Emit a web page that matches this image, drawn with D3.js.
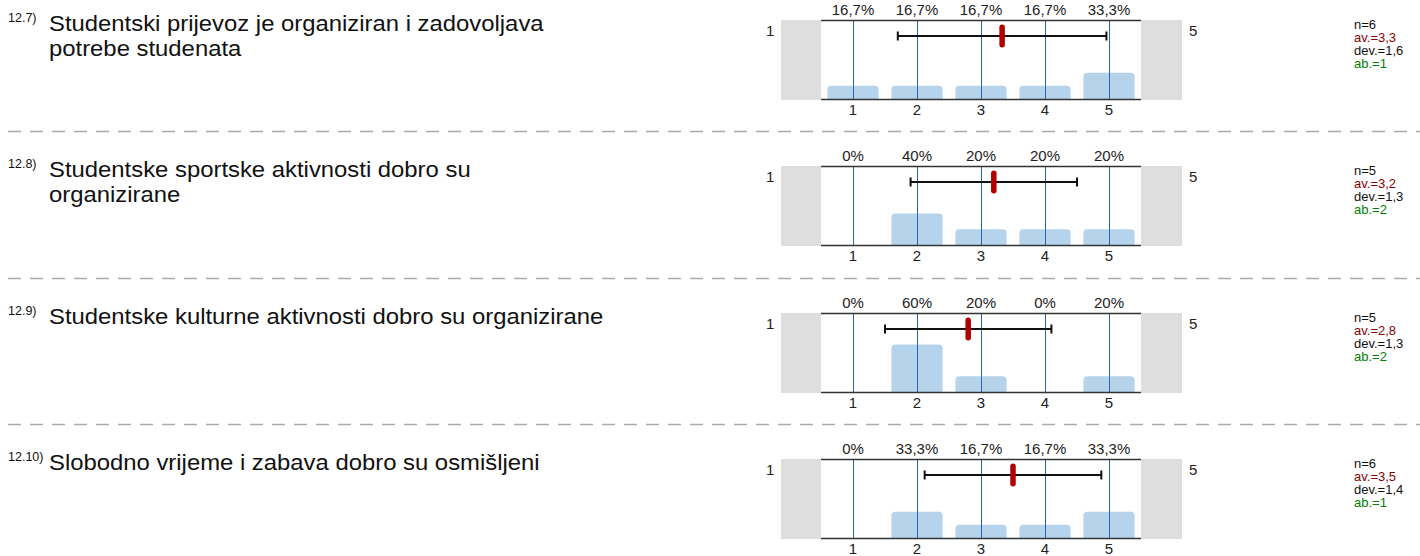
<!DOCTYPE html>
<html>
<head>
<meta charset="utf-8">
<script src="https://cdn.jsdelivr.net/npm/d3@7"></script>
<style>
  html, body { margin: 0; padding: 0; background: #fff; }
  svg { display: block; font-family: "Liberation Sans", Arial, sans-serif; }
</style>
</head>
<body>
<svg id="chart" width="1420" height="556"></svg>
<script>
// Survey items: numbering and question wording (pre-wrapped lines)
const questionIds = ["12.7)", "12.8)", "12.9)", "12.10)"];
const questionLines = [
  ["Studentski prijevoz je organiziran i zadovoljava", "potrebe studenata"],
  ["Studentske sportske aktivnosti dobro su", "organizirane"],
  ["Studentske kulturne aktivnosti dobro su organizirane"],
  ["Slobodno vrijeme i zabava dobro su osmišljeni"]
];

// Answer scale and its poles
const scaleCategories = ["1", "2", "3", "4", "5"];
const poleLeft = "1";
const poleRight = "5";

// Share of answers per scale point (%)
const answerShares = [
  [16.7, 16.7, 16.7, 16.7, 33.3],
  [0, 40, 20, 20, 20],
  [0, 60, 20, 0, 20],
  [0, 33.3, 16.7, 16.7, 33.3]
];

// Summary statistics per item
const respondents = [6, 5, 5, 6];
const means = [3.33, 3.2, 2.8, 3.5];
const deviations = [1.63, 1.30, 1.30, 1.38];
const abstentions = [1, 2, 2, 1];

const svg = d3.select("#chart");

const plotLeft = 821, plotRight = 1141, plotH = 79;
const blockStep = 146.3, firstTop = 20;

const x = d3.scaleBand()
  .domain(scaleCategories)
  .range([plotLeft, plotRight])
  .paddingInner(0.2)
  .paddingOuter(0.1);

const xVal = d3.scaleLinear()
  .domain([1, 5])
  .range([x("1") + x.bandwidth() / 2, x("5") + x.bandwidth() / 2]);

const fmtPct = v => (Number.isInteger(v) ? String(v) : v.toFixed(1).replace(".", ",")) + "%";
const fmtDec = v => v.toFixed(1).replace(".", ",");

// dashed separators between items
for (let i = 1; i < questionIds.length; i++) {
  const yy = Math.round(firstTop + i * blockStep - 35) + 0.5;
  svg.append("line")
    .attr("x1", 8).attr("x2", 1420)
    .attr("y1", yy).attr("y2", yy)
    .attr("stroke", "#aaaaaa")
    .attr("stroke-width", 1.5)
    .attr("stroke-dasharray", "13,9");
}

questionIds.forEach((qid, i) => {
  const top = Math.round(firstTop + i * blockStep);
  const bottom = top + plotH;
  const g = svg.append("g");

  const y = d3.scaleLinear().domain([0, 100]).range([bottom, top]);

  // question number and wrapped question text (slightly widened face)
  const idText = g.append("text")
    .attr("x", 8).attr("y", top + 1.5)
    .attr("font-size", 12.5).attr("fill", "#111")
    .text(qid);
  const idEnd = 8 + idText.node().getComputedTextLength();
  const textX = Math.max(49, idEnd + 2);
  const qGroup = g.append("g").attr("transform", `translate(${textX},0) scale(1.11,1)`);
  questionLines[i].forEach((line, k) => {
    qGroup.append("text")
      .attr("x", 0).attr("y", top + 11 + k * 25)
      .attr("font-size", 21.5).attr("fill", "#111")
      .text(line);
  });

  // grey pole boxes
  g.append("rect").attr("x", 781).attr("y", top).attr("width", plotLeft - 781).attr("height", plotH + 1).attr("fill", "#dedede");
  g.append("rect").attr("x", plotRight).attr("y", top).attr("width", 1182 - plotRight).attr("height", plotH + 1).attr("fill", "#dedede");

  g.append("text").attr("x", 766).attr("y", top + 16).attr("font-size", 15).attr("fill", "#222").text(poleLeft);
  g.append("text").attr("x", 1189).attr("y", top + 16).attr("font-size", 15).attr("fill", "#222").text(poleRight);

  // bars with rounded top corners
  const r = 4;
  g.selectAll("path.bar")
    .data(answerShares[i].map((v, k) => ({ v, c: scaleCategories[k] })).filter(d => d.v > 0))
    .join("path")
    .attr("class", "bar")
    .attr("fill", "#b5d4eb")
    .attr("d", d => {
      const x0 = x(d.c), x1 = x0 + x.bandwidth();
      const y0 = y(d.v), y1 = bottom;
      const rr = Math.min(r, (y1 - y0));
      return `M${x0},${y1}V${y0 + rr}Q${x0},${y0} ${x0 + rr},${y0}H${x1 - rr}Q${x1},${y0} ${x1},${y0 + rr}V${y1}Z`;
    });

  // category gridlines
  g.selectAll("line.grid")
    .data(scaleCategories)
    .join("line")
    .attr("x1", d => x(d) + x.bandwidth() / 2 + 0.5)
    .attr("x2", d => x(d) + x.bandwidth() / 2 + 0.5)
    .attr("y1", top).attr("y2", bottom)
    .attr("stroke", "#2a64aa").attr("stroke-width", 1);

  // frame lines
  g.append("line").attr("x1", plotLeft).attr("x2", plotRight).attr("y1", top + 0.5).attr("y2", top + 0.5).attr("stroke", "#333").attr("stroke-width", 1.6);
  g.append("line").attr("x1", plotLeft).attr("x2", plotRight).attr("y1", bottom + 0.5).attr("y2", bottom + 0.5).attr("stroke", "#333").attr("stroke-width", 1.6);

  // percentage labels
  g.selectAll("text.pct")
    .data(answerShares[i].map((v, k) => ({ v, c: scaleCategories[k] })))
    .join("text")
    .attr("class", "pct")
    .attr("x", d => x(d.c) + x.bandwidth() / 2)
    .attr("y", top - 5)
    .attr("text-anchor", "middle").attr("font-size", 15).attr("fill", "#222")
    .text(d => fmtPct(d.v));

  // axis labels
  const axis = d3.axisBottom(x).tickSize(0).tickPadding(0);
  const ax = g.append("g").attr("transform", `translate(0,${bottom + 5})`).call(axis);
  ax.select(".domain").remove();
  ax.selectAll("text").attr("font-size", 15).attr("fill", "#222").attr("font-family", "Liberation Sans, Arial, sans-serif").attr("dy", "0.75em");

  // mean ± deviation
  const ey = top + 16;
  const lo = means[i] - deviations[i], hi = means[i] + deviations[i];
  g.append("line").attr("x1", xVal(lo)).attr("x2", xVal(hi)).attr("y1", ey).attr("y2", ey).attr("stroke", "#111").attr("stroke-width", 2);
  [lo, hi].forEach(v => {
    g.append("line").attr("x1", xVal(v)).attr("x2", xVal(v)).attr("y1", ey - 4.5).attr("y2", ey + 4.5).attr("stroke", "#111").attr("stroke-width", 2);
  });
  g.append("rect")
    .attr("x", xVal(means[i]) - 2.75).attr("y", ey - 11.5)
    .attr("width", 5.5).attr("height", 23)
    .attr("rx", 2.75).attr("ry", 2.75)
    .attr("fill", "#b20000");

  // statistics
  const stats = [
    { t: "n=" + respondents[i], c: "#111" },
    { t: "av.=" + fmtDec(means[i]), c: "#8b0000" },
    { t: "dev.=" + fmtDec(deviations[i]), c: "#111" },
    { t: "ab.=" + abstentions[i], c: "#008000" }
  ];
  stats.forEach((s, k) => {
    g.append("text").attr("x", 1354).attr("y", top + 8.5 + k * 13)
      .attr("font-size", 13).attr("fill", s.c).text(s.t);
  });
});
</script>
</body>
</html>
